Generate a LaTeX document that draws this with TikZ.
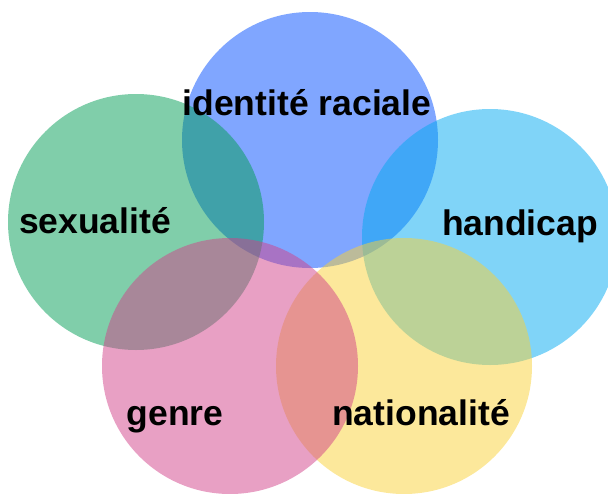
\documentclass[tikz,border=0pt]{standalone}
\usepackage{fontspec}
\setmainfont{Liberation Sans}
\definecolor{raceblue}{RGB}{1,77,255}
\definecolor{sexgreen}{RGB}{1,157,85}
\definecolor{handblue}{RGB}{1,169,241}
\definecolor{genrepink}{RGB}{209,65,137}
\definecolor{natyellow}{RGB}{249,209,55}
\begin{document}
\begin{tikzpicture}[x=1pt, y=-1pt,
            disc/.style={circle, minimum size=256pt, inner sep=0pt, fill opacity=0.5},
            tag/.style={anchor=base, font=\fontsize{35.5}{38}\selectfont\bfseries, text=black},
        ]
            \useasboundingbox (0,0) rectangle (608,493);
            \node[disc, fill=raceblue](racenode) at (310,140) {};
            \node[disc, fill=sexgreen](sexnode) at (136,222) {};
            \node[disc, fill=handblue](handnode) at (490,237) {};
            \node[disc, fill=natyellow](natnode) at (404,366) {};
            \node[disc, fill=genrepink](genrenode) at (230,366) {};
            \node[tag](racetag) at (307,115) {identité raciale};
            \node[tag](sextag) at (95,233) {sexualité};
            \node[tag](handtag) at (520,235) {handicap};
            \node[tag](genretag) at (175,425) {genre};
            \node[tag](nattag) at (421,425) {nationalité};
        \end{tikzpicture}
\end{document}
